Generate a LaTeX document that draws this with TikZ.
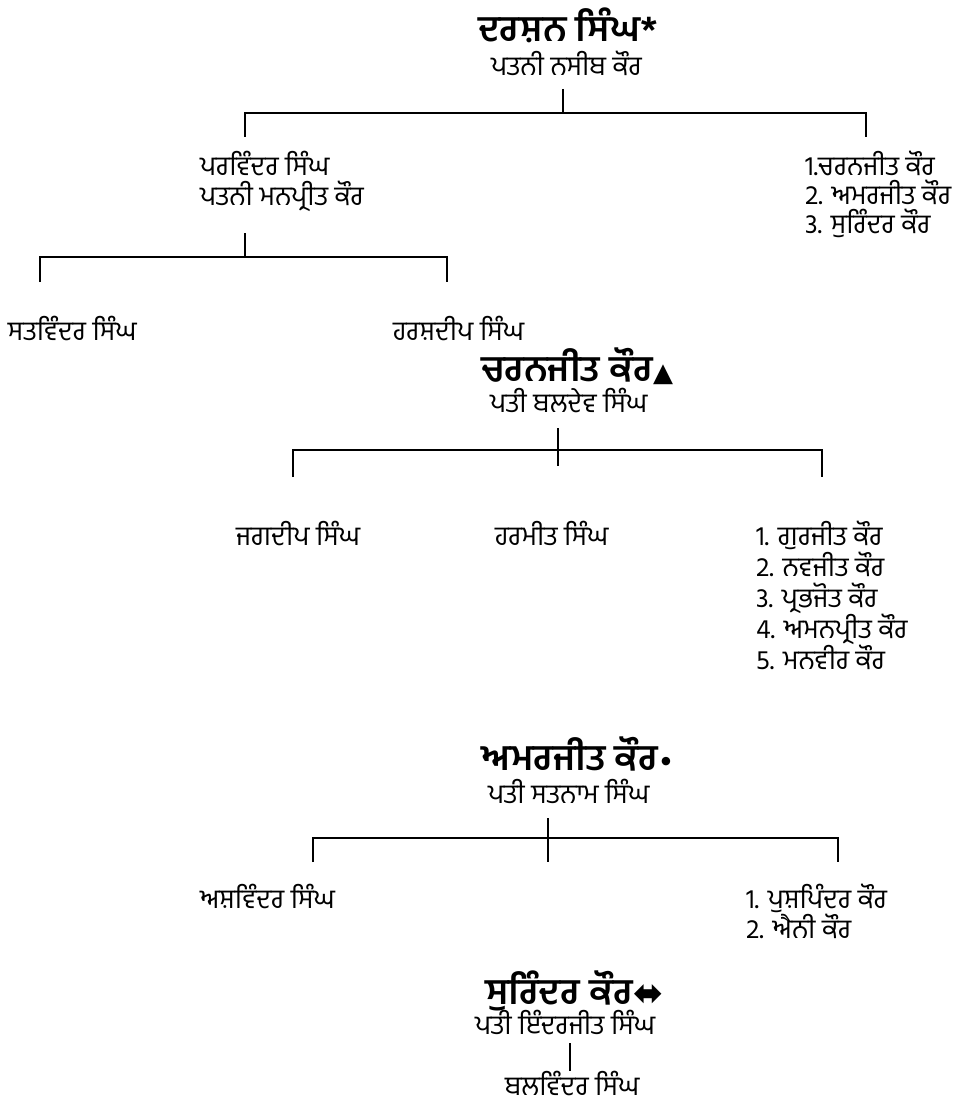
\documentclass[tikz,border=0pt]{standalone}
\usepackage{fontspec}
\usepackage{graphicx}
\newfontfamily\gur[Script=Gurmukhi]{Hind Jalandhar}
\newfontfamily\gurhead[Script=Gurmukhi,FakeStretch=1.04]{Hind Jalandhar}
\newfontfamily\symf{DejaVu Sans}
\begin{document}
\begin{tikzpicture}[x=1pt,y=-1pt,
  every node/.style={inner sep=0pt,outer sep=0pt,text=black},
  head/.style={anchor=base west,font=\gurhead\bfseries\fontsize{36}{40}\selectfont},
  lname/.style={anchor=base west,font=\gur\fontsize{27}{30}\selectfont},
  tree/.style={line width=2.3pt,line cap=butt,line join=miter}]
\useasboundingbox (0,0) rectangle (970,1113);
% generation 1
\node[head] (g1) at (478,42) {ਦਰਸ਼ਨ ਸਿੰਘ*};
\node[lname] (g1w) at (491,76) {ਪਤਨੀ ਨਸੀਬ ਕੌਰ};
\coordinate (s1) at (563,89);
\coordinate (j1) at (563,113);
\coordinate (j1l) at (245,113);
\coordinate (j1r) at (866,113);
\coordinate (d1l) at (245,137);
\coordinate (d1r) at (866,137);
\draw[tree] (s1) -- (j1);
\draw[tree] (d1l) -- (j1l) -- (j1r) -- (d1r);
% Parvinder
\node[lname] (pv) at (200,175) {ਪਰਵਿੰਦਰ ਸਿੰਘ};
\node[lname] (pvw) at (200,205) {ਪਤਨੀ ਮਨਪ੍ਰੀਤ ਕੌਰ};
\node[lname] (da1) at (805,175) {1.ਚਰਨਜੀਤ ਕੌਰ};
\node[lname] (da2) at (805,204) {2. ਅਮਰਜੀਤ ਕੌਰ};
\node[lname] (da3) at (805,233) {3. ਸੁਰਿੰਦਰ ਕੌਰ};
\coordinate (s2) at (245,233);
\coordinate (j2) at (245,257);
\coordinate (j2l) at (40,257);
\coordinate (j2r) at (447,257);
\coordinate (d2l) at (40,282);
\coordinate (d2r) at (447,282);
\draw[tree] (s2) -- (j2);
\draw[tree] (d2l) -- (j2l) -- (j2r) -- (d2r);
\node[lname] (sv) at (8,340) {ਸਤਵਿੰਦਰ ਸਿੰਘ};
\node[lname] (hd) at (393,340) {ਹਰਸ਼ਦੀਪ ਸਿੰਘ};
% Charanjit
\node[head] (cj) at (481,381) {ਚਰਨਜੀਤ ਕੌਰ{\symf\fontsize{26}{28}\selectfont ▲}};
\node[lname] (cjh) at (490,412) {ਪਤੀ ਬਲਦੇਵ ਸਿੰਘ};
\coordinate (s3) at (558,428);
\coordinate (e3) at (558,466);
\coordinate (j3l) at (293,450);
\coordinate (j3r) at (822,450);
\coordinate (d3l) at (293,477);
\coordinate (d3r) at (822,477);
\draw[tree] (s3) -- (e3);
\draw[tree] (d3l) -- (j3l) -- (j3r) -- (d3r);
\node[lname] (jd) at (236,545) {ਜਗਦੀਪ ਸਿੰਘ};
\node[lname] (hm) at (495,545) {ਹਰਮੀਤ ਸਿੰਘ};
\node[lname] (cb1) at (756,545) {1. ਗੁਰਜੀਤ ਕੌਰ};
\node[lname] (cb2) at (756,576) {2. ਨਵਜੀਤ ਕੌਰ};
\node[lname] (cb3) at (756,607) {3. ਪ੍ਰਭਜੋਤ ਕੌਰ};
\node[lname] (cb4) at (756,638) {4. ਅਮਨਪ੍ਰੀਤ ਕੌਰ};
\node[lname] (cb5) at (756,669) {5. ਮਨਵੀਰ ਕੌਰ};
% Amarjit
\node[head] (aj) at (481,770) {ਅਮਰਜੀਤ ਕੌਰ{\symf\fontsize{24}{26}\selectfont •}};
\node[lname] (ajh) at (488,803) {ਪਤੀ ਸਤਨਾਮ ਸਿੰਘ};
\coordinate (s4) at (548,818);
\coordinate (e4) at (548,862);
\coordinate (j4l) at (313,838);
\coordinate (j4r) at (838,838);
\coordinate (d4l) at (313,862);
\coordinate (d4r) at (838,862);
\draw[tree] (s4) -- (e4);
\draw[tree] (d4l) -- (j4l) -- (j4r) -- (d4r);
\node[lname] (as) at (200,908) {ਅਸ਼ਵਿੰਦਰ ਸਿੰਘ};
\node[lname] (ab1) at (746,908) {1. ਪੁਸ਼ਪਿੰਦਰ ਕੌਰ};
\node[lname] (ab2) at (746,938) {2. ਐਨੀ ਕੌਰ};
% Surinder
\node[head] (sk) at (485,1004) {ਸੁਰਿੰਦਰ ਕੌਰ{\symf\fontsize{36}{38}\selectfont\raisebox{-1pt}{⬌}}};
\node[lname] (skh) at (475,1034) {ਪਤੀ ਇੰਦਰਜੀਤ ਸਿੰਘ};
\node[lname,text depth=0pt] (bv) at (505,1095) {ਬਲਵਿੰਦਰ ਸਿੰਘ};
\coordinate (s5) at (570,1043);
\coordinate (e5) at (570,1071);
\draw[tree] (s5) -- (e5);
\end{tikzpicture}
\end{document}
